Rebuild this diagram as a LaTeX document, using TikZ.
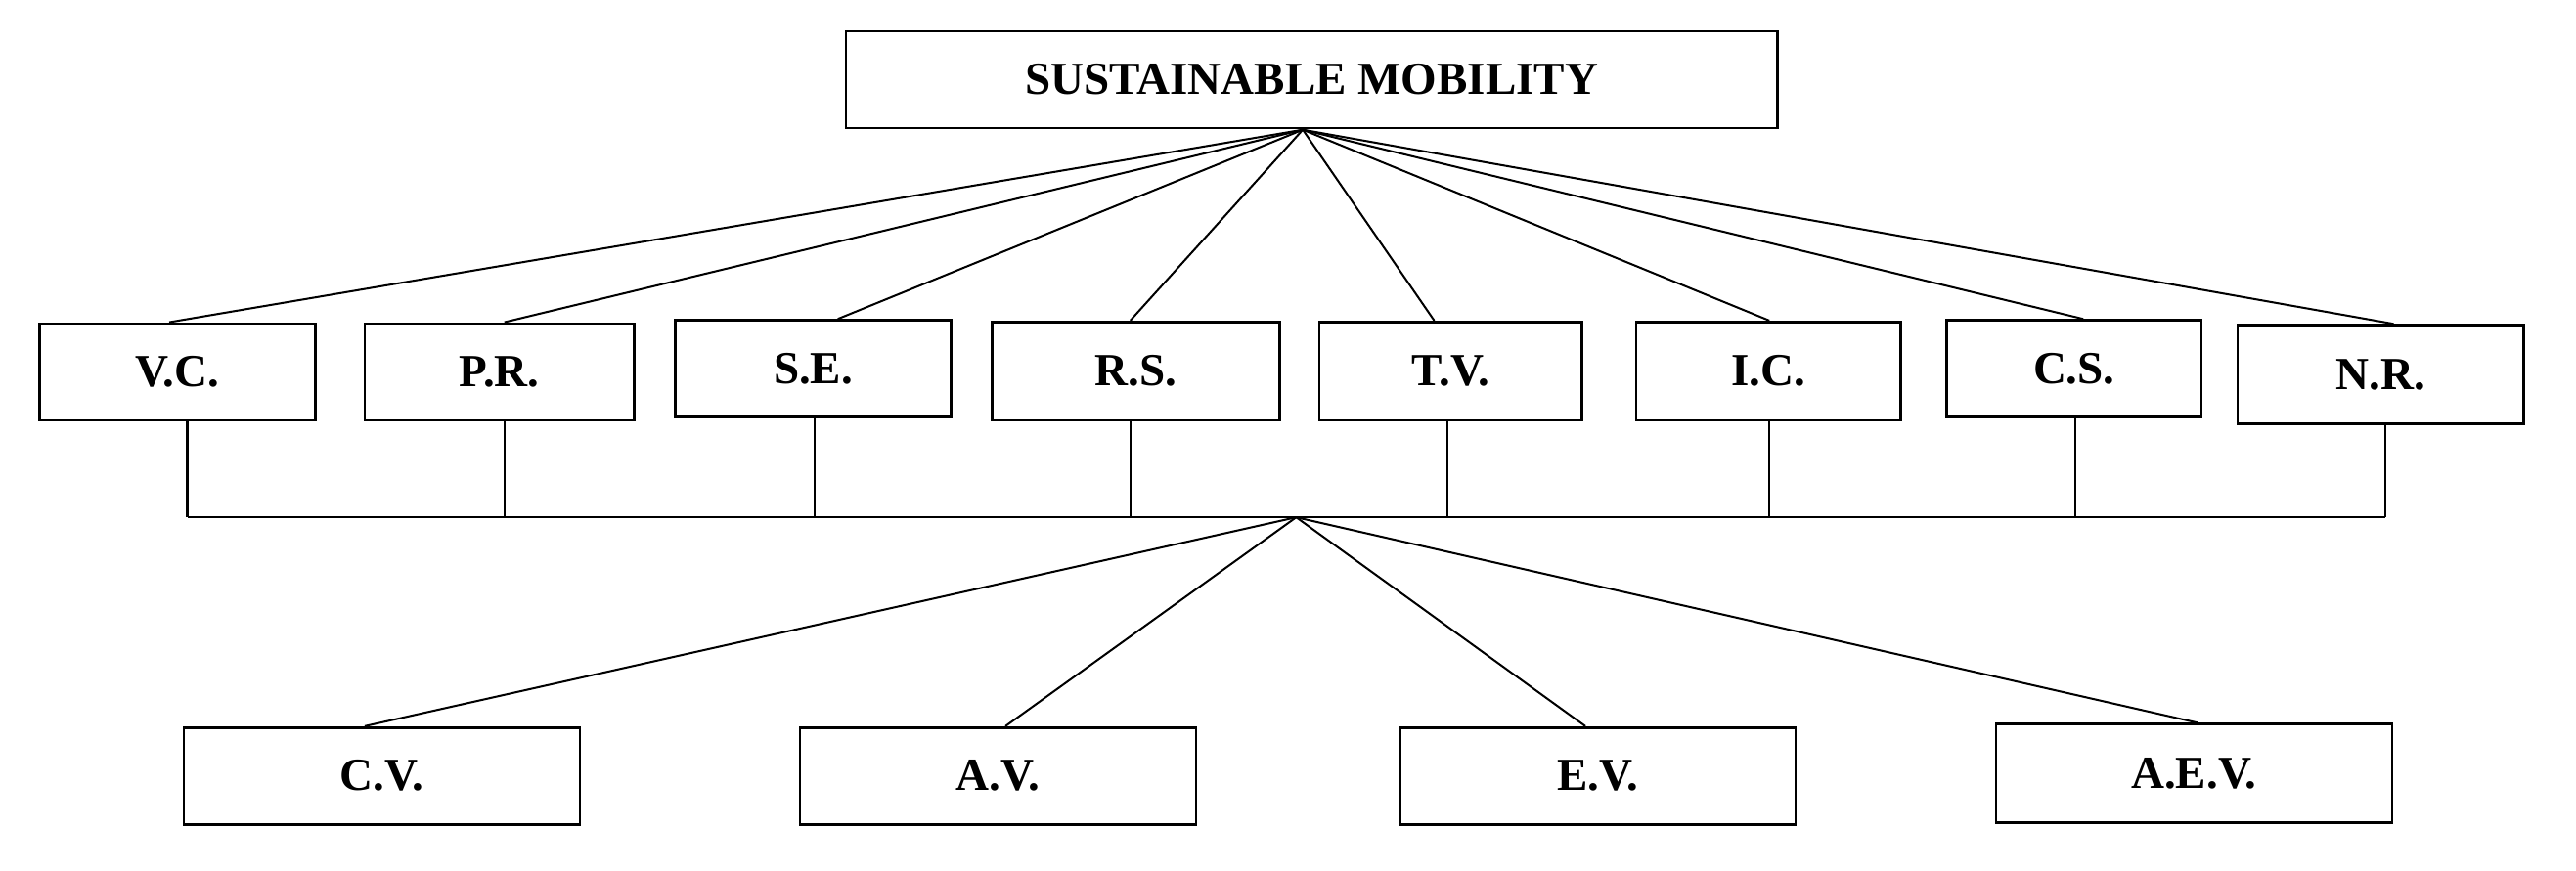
\documentclass[tikz,border=0pt]{standalone}
\usepackage{fontspec}
\setmainfont{Liberation Serif}
\begin{document}
\begin{tikzpicture}[x=0.5pt,y=-0.5pt,
  box/.style={draw,thick,inner sep=0pt,font=\fontsize{14}{16}\selectfont\bfseries},
  ln/.style={line width=0.6pt}]
\useasboundingbox (0,0) rectangle (1568,530);
\node[box,minimum width=283.5pt,minimum height=29.5pt] (top) at (798.5,48.5) {SUSTAINABLE MOBILITY};
\foreach \n/\t/\a/\b/\c/\d in {vc/V.C./24/192/197/256, pr/P.R./222/386/197/256, se/S.E./411/579/195/254, rs/R.S./604/779/196/256, tv/T.V./803/963/196/256, ic/I.C./996/1157/196/256, cs/C.S./1185/1340/195/254, nr/N.R./1362/1536/198/258,
  cv/C.V./112/353/443/502, av/A.V./487/728/443/502, ev/E.V./852/1093/443/502, aev/A.E.V./1215/1456/441/501}
  \node[box,minimum width={(\b-\a)*0.5pt},minimum height={(\d-\c)*0.5pt}] (\n) at ({(\a+\b)/2},{(\c+\d)/2}) {\t};
\coordinate (apex) at (793,79);
\coordinate (hub) at (789,315);
\foreach \n/\x in {vc/103, pr/307, se/510, rs/688, tv/873, ic/1077, cs/1268, nr/1457}
  \draw[ln] (apex) -- (\n.north -| \x,0);
\foreach \n/\x in {vc/114, pr/307, se/496, rs/688, tv/881, ic/1077, cs/1263, nr/1452}
  \draw[ln] (\n.south -| \x,0) -- (\x,315);
\coordinate (busL) at (114,315);
\coordinate (busR) at (1452,315);
\draw[ln] (busL) -- (busR);
\foreach \n/\x in {cv/222, av/612, ev/965, aev/1338}
  \draw[ln] (hub) -- (\n.north -| \x,0);
\end{tikzpicture}
\end{document}
